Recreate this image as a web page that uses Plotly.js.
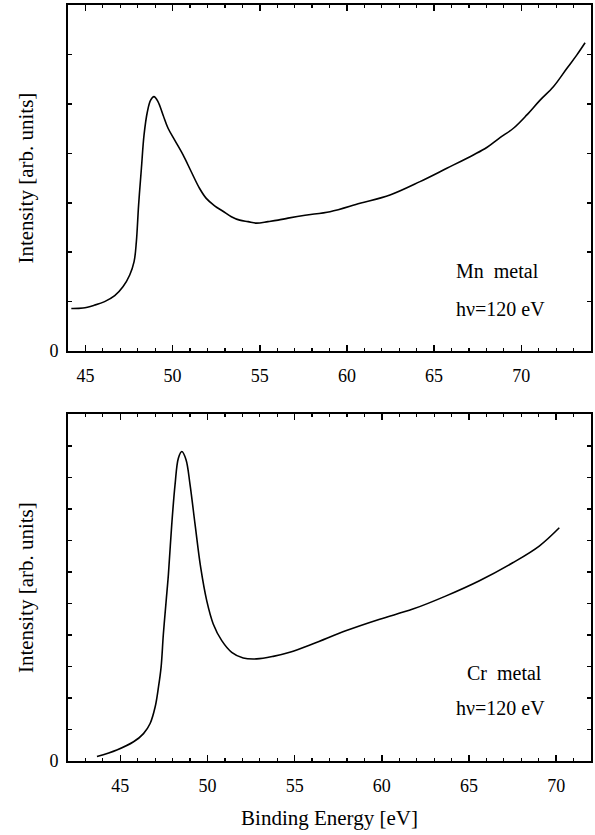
<!DOCTYPE html>
<html>
<head>
<meta charset="utf-8">
<script src="https://cdn.plot.ly/plotly-3.0.1.min.js"></script>
<style>html,body{margin:0;padding:0;background:#fff;}#chart{width:595px;height:835px;}</style>
</head>
<body>
<div id="chart"></div>
<script>
// Mn metal spectrum (top panel)
const mnEnergy = [44.19,44.86,45.53,46.10,46.68,47.15,47.54,47.79,47.92,48.05,48.21,48.36,48.55,48.74,48.93,49.16,49.45,49.74,50.12,50.60,51.07,51.55,51.93,52.41,52.89,53.37,53.85,54.33,54.80,55.47,56.05,56.62,57.60,59.03,60.75,62.47,64.19,65.73,67.25,68.02,68.78,69.55,70.32,71.08,71.84,72.61,73.18,73.66];
const mnIntensity = [0.86,0.87,0.93,1.00,1.12,1.30,1.54,1.81,2.21,2.96,3.70,4.37,4.84,5.08,5.15,5.05,4.78,4.51,4.27,3.97,3.63,3.29,3.09,2.94,2.83,2.72,2.65,2.62,2.59,2.62,2.65,2.69,2.75,2.82,2.99,3.16,3.43,3.70,3.97,4.12,4.32,4.51,4.78,5.08,5.35,5.72,5.99,6.24];

// Cr metal spectrum (bottom panel)
const crEnergy = [43.66,44.80,45.76,46.33,46.71,47.00,47.19,47.34,47.47,47.63,47.76,47.95,48.14,48.33,48.53,48.77,49.00,49.29,49.61,49.96,50.33,50.82,51.39,52.05,52.82,53.77,54.72,56.06,57.97,59.88,61.78,63.69,65.60,67.51,69.03,70.18];
const crIntensity = [0.14,0.35,0.61,0.87,1.19,1.72,2.35,2.98,4.03,5.08,5.93,7.50,8.77,9.61,9.82,9.56,8.77,7.50,6.14,5.08,4.35,3.82,3.45,3.27,3.24,3.32,3.45,3.72,4.14,4.50,4.82,5.24,5.72,6.29,6.82,7.40];

// Tick values / labels
const topYTicks = [0,1,2,3,4,5,6,7];
const topYLabels = ['0','','','','','','',''];
const botYTicks = [0,1,2,3,4,5,6,7,8,9,10,11];
const botYLabels = ['0','','','','','','','','','','',''];
const xTitle = 'Binding Energy [eV]';
const yTitle = 'Intensity [arb. units]';
const mnLabel = 'Mn\u00a0\u00a0metal';
const crLabel = 'Cr\u00a0\u00a0metal';
const photonLabel = 'h\u03bd=120 eV';

const FONT = 'Liberation Serif, Times New Roman, serif';

const lineStyle = {color: '#000', width: 1.6, shape: 'spline', smoothing: 1.0};

const traces = [
  {x: mnEnergy, y: mnIntensity, type: 'scatter', mode: 'lines', line: lineStyle, xaxis: 'x', yaxis: 'y', name: 'Mn metal'},
  {x: crEnergy, y: crIntensity, type: 'scatter', mode: 'lines', line: lineStyle, xaxis: 'x2', yaxis: 'y2', name: 'Cr metal'}
];

function xAxis(range, anchor, withTitle) {
  const ax = {
    range: range, anchor: anchor, domain: [0.1143, 0.9933],
    showline: true, linewidth: 2, linecolor: '#000', mirror: 'allticks',
    ticks: 'inside', ticklen: 6, tickwidth: 1.5, tickcolor: '#000',
    tick0: 0, dtick: 5,
    minor: {ticks: 'inside', dtick: 1, tick0: 0, ticklen: 3, tickwidth: 1.2, tickcolor: '#000', showgrid: false},
    showgrid: false, zeroline: false,
    tickfont: {family: FONT, size: 18, color: '#000'},
    ticklabelstandoff: 7,
    fixedrange: true
  };
  if (withTitle) ax.title = {text: xTitle, font: {family: FONT, size: 21, color: '#000'}, standoff: 16};
  return ax;
}
function yAxis(range, domain, anchor, tv, tt) {
  return {
    range: range, domain: domain, anchor: anchor,
    showline: true, linewidth: 2, linecolor: '#000', mirror: 'allticks',
    ticks: 'inside', ticklen: 4, tickwidth: 1.5, tickcolor: '#000',
    tickmode: 'array', tickvals: tv, ticktext: tt,
    showgrid: false, zeroline: false,
    tickfont: {family: FONT, size: 18, color: '#000'},
    ticklabelstandoff: 4,
    title: {text: yTitle, font: {family: FONT, size: 21, color: '#000'}, standoff: 10},
    fixedrange: true
  };
}

const annFont = {family: FONT, size: 20, color: '#000'};
const layout = {
  width: 595, height: 835,
  margin: {l: 0, r: 0, t: 0, b: 0},
  paper_bgcolor: '#fff', plot_bgcolor: '#fff',
  showlegend: false,
  xaxis: xAxis([44, 74], 'y', false),
  yaxis: yAxis([0, 7], [0.5796, 0.9937], 'x', topYTicks, topYLabels),
  xaxis2: xAxis([42, 72], 'y2', true),
  yaxis2: yAxis([0, 11], [0.0886, 0.5038], 'x2', botYTicks, botYLabels),
  annotations: [
    {text: mnLabel, xref: 'paper', yref: 'paper', x: 0.763, y: 0.6754, xanchor: 'left', yanchor: 'middle', showarrow: false, font: annFont},
    {text: photonLabel, xref: 'paper', yref: 'paper', x: 0.763, y: 0.630, xanchor: 'left', yanchor: 'middle', showarrow: false, font: annFont},
    {text: crLabel, xref: 'paper', yref: 'paper', x: 0.7815, y: 0.194, xanchor: 'left', yanchor: 'middle', showarrow: false, font: annFont},
    {text: photonLabel, xref: 'paper', yref: 'paper', x: 0.763, y: 0.152, xanchor: 'left', yanchor: 'middle', showarrow: false, font: annFont}
  ]
};

Plotly.newPlot('chart', traces, layout, {staticPlot: true, displayModeBar: false});
</script>
</body>
</html>
